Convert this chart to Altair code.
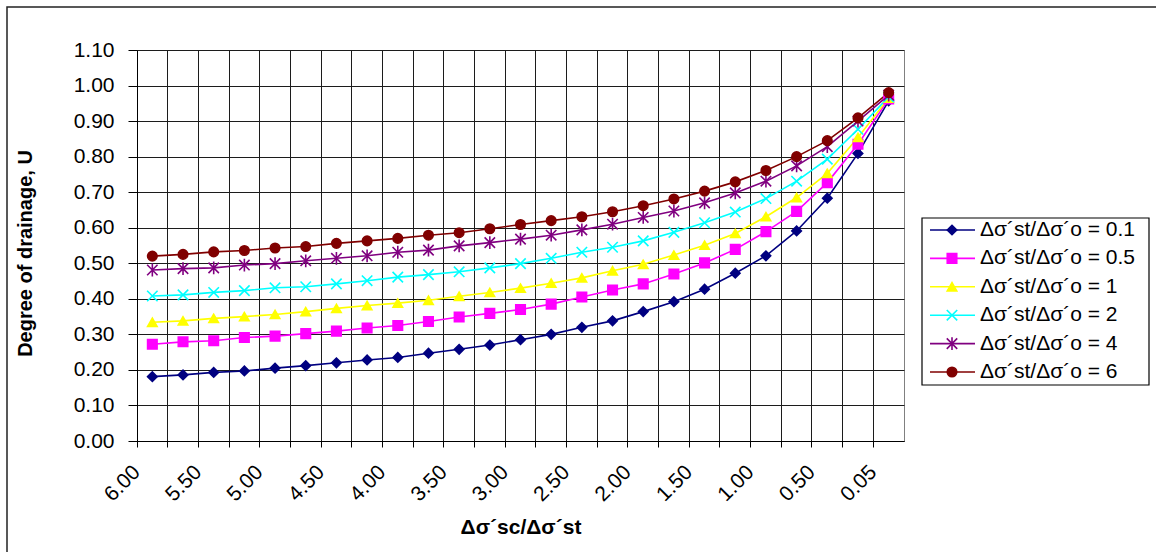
import json

import altair as alt
import pandas as pd

# Category axis: stress ratio Δσ´sc/Δσ´st
x_ratio = ["6.00", "5.75", "5.50", "5.25", "5.00", "4.75", "4.50", "4.25", "4.00",
           "3.75", "3.50", "3.25", "3.00", "2.75", "2.50", "2.25", "2.00", "1.75",
           "1.50", "1.25", "1.00", "0.75", "0.50", "0.25", "0.05"]
labeled_ratios = ["6.00", "5.50", "5.00", "4.50", "4.00", "3.50", "3.00", "2.50",
                  "2.00", "1.50", "1.00", "0.50", "0.05"]
y_ticks = [0.0, 0.1, 0.2, 0.3, 0.4, 0.5, 0.6, 0.7, 0.8, 0.9, 1.0, 1.1]

series_names = [
    "Δσ´st/Δσ´o = 0.1",
    "Δσ´st/Δσ´o = 0.5",
    "Δσ´st/Δσ´o = 1",
    "Δσ´st/Δσ´o = 2",
    "Δσ´st/Δσ´o = 4",
    "Δσ´st/Δσ´o = 6",
]

# Degree of drainage U for each series
u_01 = [0.181, 0.186, 0.193, 0.197, 0.205, 0.212, 0.220, 0.228, 0.235, 0.247, 0.258, 0.270,
        0.285, 0.300, 0.320, 0.338, 0.364, 0.392, 0.427, 0.472, 0.521, 0.591, 0.683, 0.809, 0.957]
u_05 = [0.272, 0.279, 0.282, 0.291, 0.295, 0.302, 0.309, 0.318, 0.325, 0.336, 0.349, 0.359,
        0.370, 0.385, 0.405, 0.425, 0.442, 0.470, 0.501, 0.539, 0.589, 0.646, 0.727, 0.835, 0.962]
u_1 = [0.334, 0.338, 0.345, 0.350, 0.356, 0.364, 0.373, 0.381, 0.388, 0.396, 0.407, 0.418,
       0.430, 0.444, 0.459, 0.479, 0.497, 0.523, 0.551, 0.584, 0.631, 0.685, 0.753, 0.854, 0.965]
u_2 = [0.408, 0.411, 0.418, 0.423, 0.431, 0.434, 0.442, 0.451, 0.461, 0.468, 0.476, 0.487,
       0.499, 0.514, 0.531, 0.545, 0.563, 0.587, 0.614, 0.644, 0.682, 0.731, 0.793, 0.877, 0.968]
u_4 = [0.481, 0.485, 0.487, 0.495, 0.499, 0.507, 0.514, 0.521, 0.531, 0.537, 0.549, 0.558,
       0.568, 0.579, 0.594, 0.610, 0.629, 0.647, 0.670, 0.698, 0.731, 0.774, 0.828, 0.900, 0.973]
u_6 = [0.520, 0.525, 0.532, 0.536, 0.543, 0.547, 0.556, 0.563, 0.570, 0.579, 0.586, 0.597,
       0.609, 0.620, 0.631, 0.645, 0.662, 0.681, 0.703, 0.729, 0.761, 0.800, 0.845, 0.909, 0.980]

series_colors = ["#000080", "#FF00FF", "#FFFF00", "#00FFFF", "#800080", "#800000"]
cross_path = "M-1.1,-1.1L1.1,1.1M-1.1,1.1L1.1,-1.1"
star_path = "M-1.1,-1.1L1.1,1.1M-1.1,1.1L1.1,-1.1M0,-1.35L0,1.35"
series_shapes = ["diamond", "square", "triangle-up", cross_path, star_path, "circle"]

rows = []
for name, values in zip(series_names, [u_01, u_05, u_1, u_2, u_4, u_6]):
    for ratio, u in zip(x_ratio, values):
        rows.append({"ratio": ratio, "U": u, "series": name})
df = pd.DataFrame(rows)
legend_df = pd.DataFrame({"series": series_names})
one_row = pd.DataFrame({"k": [0]})

FONT = "Liberation Sans"
GRID = "#1c1c1c"

color_scale = alt.Scale(domain=series_names, range=series_colors)
shape_scale = alt.Scale(domain=series_names, range=series_shapes)

label_expr = ("indexof(" + json.dumps(labeled_ratios) + ", datum.value) >= 0 ? datum.value : ''")

x_enc = alt.X(
    "ratio:N",
    sort=x_ratio,
    scale=alt.Scale(type="band", paddingInner=0, paddingOuter=0),
    axis=alt.Axis(
        title="Δσ´sc/Δσ´st",
        bandPosition=0,
        labelExpr=label_expr,
        labelAngle=-45,
        labelAlign="right",
        labelBaseline="top",
        labelPadding=14,
        labelOffset=-23,
        labelFontSize=21,
        labelFont=FONT,
        labelColor="#000000",
        tickSize=6,
        tickColor="#000000",
        domainColor="#000000",
        gridColor=GRID,
        gridWidth=1,
        titleFont=FONT,
        titleFontSize=21,
        titleFontWeight="bold",
        titleColor="#000000",
        titleY=92,
        titleBaseline="alphabetic",
        labelOverlap=False,
    ),
)
y_enc = alt.Y(
    "U:Q",
    scale=alt.Scale(domain=[0, 1.1], nice=False, zero=True),
    axis=alt.Axis(
        title="Degree of drainage, U",
        values=y_ticks,
        format=".2f",
        labelFontSize=21,
        labelFont=FONT,
        labelColor="#000000",
        labelPadding=14,
        tickSize=9,
        tickColor="#000000",
        domainColor="#000000",
        gridColor=GRID,
        gridWidth=1,
        titleFont=FONT,
        titleFontSize=20,
        titleFontWeight="bold",
        titleColor="#000000",
        titleX=-102,
        titleY=203,
        titleAngle=-90,
        titleAlign="center",
        titleBaseline="bottom",
    ),
)

base = alt.Chart(df)
lines = base.mark_line(strokeWidth=1.6).encode(
    x=x_enc,
    y=y_enc,
    color=alt.Color("series:N", scale=color_scale, legend=None),
    detail="series:N",
)
points = base.mark_point(filled=True, size=90, opacity=1, strokeWidth=1.6).encode(
    x=x_enc,
    y=y_enc,
    color=alt.Color("series:N", scale=color_scale, legend=None),
    stroke=alt.Stroke("series:N", scale=color_scale, legend=None),
    shape=alt.Shape("series:N", scale=shape_scale, legend=None),
)
main = alt.layer(lines, points)

# Outer frame of the chart
frame = alt.Chart(one_row).mark_rect(
    fill="transparent", stroke="#222222", strokeWidth=1.5, clip=False
).encode(
    x=alt.value(-130), x2=alt.value(1030), y=alt.value(-43), y2=alt.value(520)
)

# Legend box on the right
legend_box = alt.Chart(one_row).mark_rect(
    fill="#FFFFFF", stroke="#000000", strokeWidth=1.2, clip=False
).encode(
    x=alt.value(785), x2=alt.value(1012), y=alt.value(168), y2=alt.value(335)
)

legend_y = alt.Y(
    "series:N",
    sort=series_names,
    scale=alt.Scale(type="point", range=[180, 322], padding=0),
    axis=None,
)
leg_base = alt.Chart(legend_df)
leg_lines = leg_base.mark_rule(strokeWidth=1.6, clip=False).encode(
    x=alt.value(793), x2=alt.value(838), y=legend_y,
    color=alt.Color("series:N", scale=color_scale, legend=None),
)
leg_points = leg_base.mark_point(filled=True, size=90, opacity=1, strokeWidth=1.6, clip=False).encode(
    x=alt.value(815), y=legend_y,
    color=alt.Color("series:N", scale=color_scale, legend=None),
    stroke=alt.Stroke("series:N", scale=color_scale, legend=None),
    shape=alt.Shape("series:N", scale=shape_scale, legend=None),
)
leg_text = leg_base.mark_text(
    align="left", baseline="middle", font=FONT, fontSize=21, color="#000000", clip=False
).encode(
    x=alt.value(843), y=legend_y, text="series:N"
)
legend = alt.layer(leg_lines, leg_points, leg_text)

chart = (
    alt.layer(frame, main, legend_box, legend)
    .resolve_scale(y="independent")
    .properties(
        width=767,
        height=391,
        padding={"left": 137, "top": 50, "right": 252, "bottom": 111},
        autosize=alt.AutoSizeParams(type="none"),
        background="#FFFFFF",
    )
    .configure_view(stroke="#808080", strokeWidth=1)
    .configure_axis(grid=True)
)

chart.save("out.html", embed_options={"renderer": "svg", "actions": False})
